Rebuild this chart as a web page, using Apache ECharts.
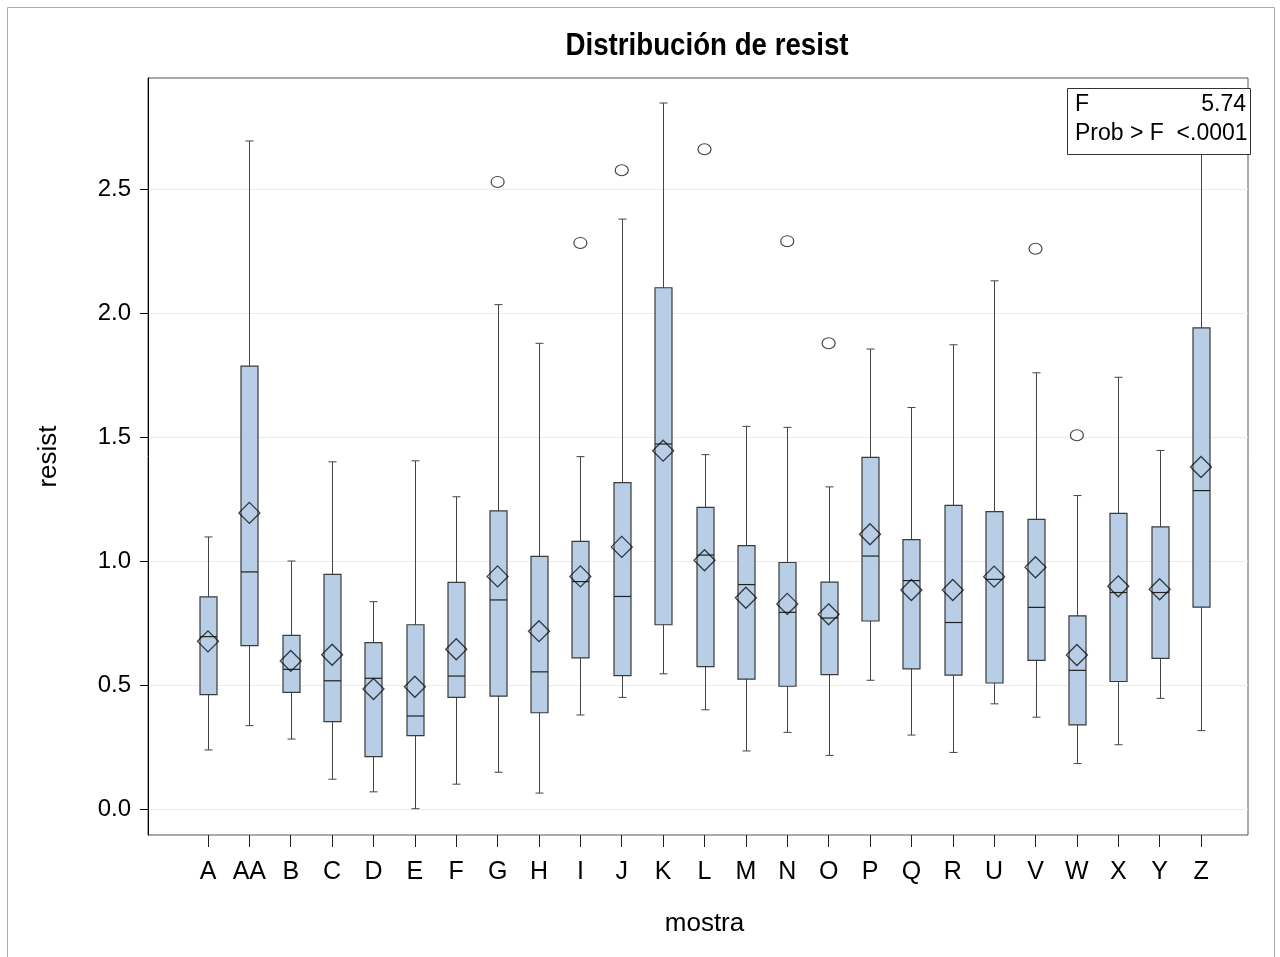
<html>
<head>
<meta charset="UTF-8">
<title>Distribución de resist</title>
<style type="text/css">
  html, body { margin: 0; padding: 0; background: #fff; }
  #main { width: 1280px; height: 957px; }
</style>
</head>
<body>
<div id="main"></div>
<script src="https://cdn.jsdelivr.net/npm/echarts@6/dist/echarts.min.js"></script>
<script type="text/javascript">
// box plot values per muestra
var categories  = ['A','AA','B','C','D','E','F','G','H','I','J','K','L','M','N','O','P','Q','R','U','V','W','X','Y','Z'];
var whiskerLow  = [0.238,0.336,0.282,0.120,0.069,0.001,0.100,0.148,0.064,0.379,0.450,0.545,0.400,0.234,0.309,0.216,0.519,0.298,0.228,0.424,0.370,0.183,0.259,0.446,0.316];
var q1          = [0.461,0.659,0.470,0.352,0.211,0.296,0.450,0.455,0.388,0.609,0.538,0.743,0.574,0.524,0.495,0.542,0.758,0.565,0.540,0.508,0.599,0.339,0.514,0.607,0.814];
var median      = [0.695,0.956,0.563,0.517,0.527,0.375,0.536,0.843,0.553,0.917,0.857,1.472,1.024,0.905,0.793,0.770,1.020,0.921,0.752,0.926,0.813,0.559,0.873,0.873,1.284];
var q3          = [0.855,1.786,0.700,0.946,0.671,0.743,0.914,1.202,1.019,1.079,1.316,2.102,1.216,1.062,0.994,0.915,1.418,1.086,1.224,1.199,1.168,0.779,1.192,1.138,1.940];
var whiskerHigh = [1.097,2.694,1.000,1.400,0.836,1.404,1.259,2.034,1.878,1.421,2.379,2.847,1.429,1.543,1.539,1.299,1.855,1.619,1.872,2.130,1.759,1.264,1.741,1.446,2.750];
var means       = [0.676,1.194,0.597,0.622,0.484,0.493,0.644,0.938,0.717,0.938,1.057,1.445,1.003,0.852,0.827,0.785,1.108,0.883,0.883,0.937,0.975,0.621,0.898,0.886,1.379];
var outlierCats = ['G','I','J','L','N','O','V','W'];
var outlierVals = [2.529,2.283,2.576,2.661,2.290,1.878,2.259,1.507];
var yTicks      = [0, 0.5, 1.0, 1.5, 2.0, 2.5];
var yMin = -0.105, yMax = 2.948;

var font = "'Liberation Sans', Arial, sans-serif";

var boxData = categories.map(function (c, i) {
    return [i, whiskerLow[i], q1[i], median[i], q3[i], whiskerHigh[i]];
});
var meanData = categories.map(function (c, i) { return [i, means[i]]; });
var outlierData = outlierCats.map(function (c, i) {
    return [categories.indexOf(c), outlierVals[i]];
});

function renderBox(params, api) {
    var x = api.value(0);
    var pLow = api.coord([x, api.value(1)]);
    var pQ1 = api.coord([x, api.value(2)]);
    var pMed = api.coord([x, api.value(3)]);
    var pQ3 = api.coord([x, api.value(4)]);
    var pHigh = api.coord([x, api.value(5)]);
    var cx = Math.round(pLow[0]) + 0.5;
    var hb = 8.5, hc = 4;
    var wStyle = { stroke: '#444', lineWidth: 1 };
    return {
        type: 'group',
        children: [
            { type: 'line', shape: { x1: cx, y1: pLow[1], x2: cx, y2: pHigh[1] }, style: wStyle },
            { type: 'line', shape: { x1: cx - hc, y1: pLow[1], x2: cx + hc, y2: pLow[1] }, style: wStyle },
            { type: 'line', shape: { x1: cx - hc, y1: pHigh[1], x2: cx + hc, y2: pHigh[1] }, style: wStyle },
            { type: 'rect', shape: { x: cx - hb, y: pQ3[1], width: hb * 2, height: pQ1[1] - pQ3[1] },
              style: { fill: '#B8CDE6', stroke: '#3a3a3a', lineWidth: 1.2 } },
            { type: 'line', shape: { x1: cx - hb, y1: pMed[1], x2: cx + hb, y2: pMed[1] },
              style: { stroke: '#222', lineWidth: 1.2 } }
        ]
    };
}

var option = {
    backgroundColor: '#fff',
    animation: false,
    grid: [
        { left: 148, right: 32, top: 78, bottom: 122, show: true, borderColor: '#555', borderWidth: 1 },
        { left: 187.3, right: 58.3, top: 78, bottom: 122 }
    ],
    xAxis: [
        { gridIndex: 0, type: 'value', min: 0, max: 1, show: false },
        {
            gridIndex: 1,
            type: 'category',
            data: categories,
            name: 'mostra',
            nameLocation: 'middle',
            nameGap: 76,
            nameTextStyle: { fontFamily: font, fontSize: 26, color: '#000' },
            axisLine: { show: false, onZero: false },
            axisTick: { show: true, interval: 0, alignWithLabel: true, length: 12, lineStyle: { color: '#222' } },
            axisLabel: { interval: 0, margin: 25, fontFamily: font, fontSize: 25, color: '#000' },
            splitLine: { show: false }
        }
    ],
    yAxis: [
        {
            gridIndex: 0,
            type: 'value',
            min: yMin,
            max: yMax,
            name: 'resist',
            nameLocation: 'middle',
            nameGap: 86,
            nameTextStyle: { fontFamily: font, fontSize: 26, color: '#000' },
            axisLine: { show: true, lineStyle: { color: '#000' } },
            axisTick: { show: true, length: 8, customValues: yTicks, lineStyle: { color: '#000' } },
            axisLabel: {
                customValues: yTicks,
                margin: 17,
                fontFamily: font,
                fontSize: 24,
                color: '#000',
                formatter: function (v) { return v.toFixed(1); }
            },
            splitLine: { show: true, lineStyle: { color: '#ebebeb', width: 1 } }
        },
        { gridIndex: 1, type: 'value', min: yMin, max: yMax, show: false }
    ],
    graphic: [
        { type: 'rect', shape: { x: 7.5, y: 7.5, width: 1267, height: 960 },
          style: { fill: 'none', stroke: '#aaa', lineWidth: 1 }, silent: true },
        { type: 'text', x: 707, y: 46, scaleX: 0.865,
          style: { text: 'Distribución de resist', font: 'bold 32px ' + font, fill: '#000',
                   textAlign: 'center', textVerticalAlign: 'middle' } },
        { type: 'rect', shape: { x: 1067.5, y: 88.5, width: 183, height: 66 },
          style: { fill: '#fff', stroke: '#333', lineWidth: 1 }, z: 100 },
        { type: 'text', x: 1075, y: 105, z: 101,
          style: { text: 'F', font: '23px ' + font, fill: '#000', textAlign: 'left', textVerticalAlign: 'middle' } },
        { type: 'text', x: 1246, y: 105, z: 101,
          style: { text: '5.74', font: '23px ' + font, fill: '#000', textAlign: 'right', textVerticalAlign: 'middle' } },
        { type: 'text', x: 1075, y: 134, z: 101,
          style: { text: 'Prob > F  <.0001', font: '23px ' + font, fill: '#000', textAlign: 'left', textVerticalAlign: 'middle' } }
    ],
    series: [
        {
            name: 'caja',
            type: 'custom',
            xAxisIndex: 1,
            yAxisIndex: 1,
            renderItem: renderBox,
            data: boxData,
            z: 2
        },
        {
            name: 'media',
            type: 'scatter',
            xAxisIndex: 1,
            yAxisIndex: 1,
            symbol: 'diamond',
            symbolSize: [21, 21],
            itemStyle: { color: 'rgba(0,0,0,0)', borderColor: '#111', borderWidth: 1.3 },
            data: meanData,
            z: 3
        },
        {
            name: 'atípicos',
            type: 'scatter',
            xAxisIndex: 1,
            yAxisIndex: 1,
            symbol: 'circle',
            symbolSize: [13, 11],
            itemStyle: { color: '#fff', borderColor: '#111', borderWidth: 1.1 },
            data: outlierData,
            z: 3
        }
    ]
};

var myChart = echarts.init(document.getElementById('main'));
myChart.setOption(option);
</script>
</body>
</html>
